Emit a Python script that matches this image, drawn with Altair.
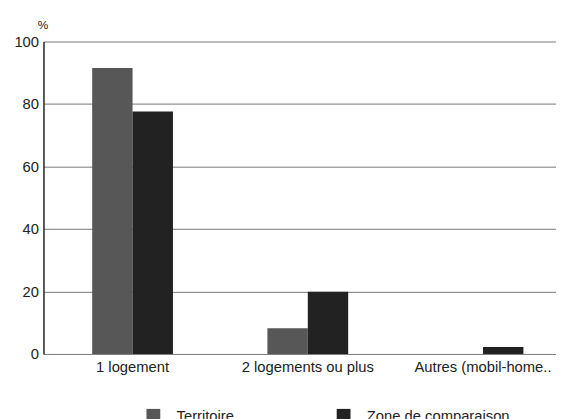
import altair as alt
import pandas as pd

categories = ["1 logement", "2 logements ou plus", "Autres (mobil-home.."]
series = ["Territoire", "Zone de comparaison"]
territoire = [91.5, 8.2, 0.0]
zone = [77.6, 19.9, 2.2]
y_ticks = [0, 20, 40, 60, 80, 100]
colors = ["#575757", "#222222"]

rows = []
for c, t, z in zip(categories, territoire, zone):
    rows.append({"cat": c, "serie": series[0], "val": t})
    rows.append({"cat": c, "serie": series[1], "val": z})
df = pd.DataFrame(rows)

font = "Liberation Sans"

chart = alt.Chart(df).mark_bar().encode(
    x=alt.X("cat:N", sort=categories,
            scale=alt.Scale(paddingInner=0.539, paddingOuter=0.232, align=0.599),
            axis=alt.Axis(title=None, labelAngle=0, labelFontSize=15, labelFont=font,
                          labelColor="#222", ticks=False, domain=False, labelPadding=6,
                          labelLimit=300)),
    xOffset=alt.XOffset("serie:N", sort=series),
    y=alt.Y("val:Q", scale=alt.Scale(domain=[0, 100], nice=False),
            axis=alt.Axis(values=y_ticks, title="%", titleAngle=0, titleX=-1, titleY=-13,
                          titleAlign="center", titleBaseline="alphabetic", titleFontSize=12,
                          titleFontWeight="normal", titleFont=font, titleColor="#222",
                          labelFontSize=15, labelFont=font, labelColor="#222", ticks=False,
                          labelPadding=5, domainColor="#222", domainWidth=1.5,
                          gridColor="#777", gridWidth=1)),
    color=alt.Color("serie:N", sort=series,
                    scale=alt.Scale(domain=series, range=colors),
                    legend=alt.Legend(title=None, orient="none", legendX=104, legendY=372,
                                      direction="horizontal", symbolType="square",
                                      symbolSize=196, symbolStrokeWidth=0, labelFontSize=15,
                                      labelFont=font, labelColor="#222", labelOffset=16,
                                      columnPadding=103, padding=0, labelLimit=300)),
).properties(
    width=520, height=317,
    autosize=alt.AutoSizeParams(type="none"),
    padding={"left": 36, "top": 31, "right": 0, "bottom": 63},
).configure_view(stroke=None).configure_axisX(
    domain=True, domainColor="#222", domainWidth=1.5
)

chart.save("out.html", embed_options={"renderer": "svg", "actions": False})
